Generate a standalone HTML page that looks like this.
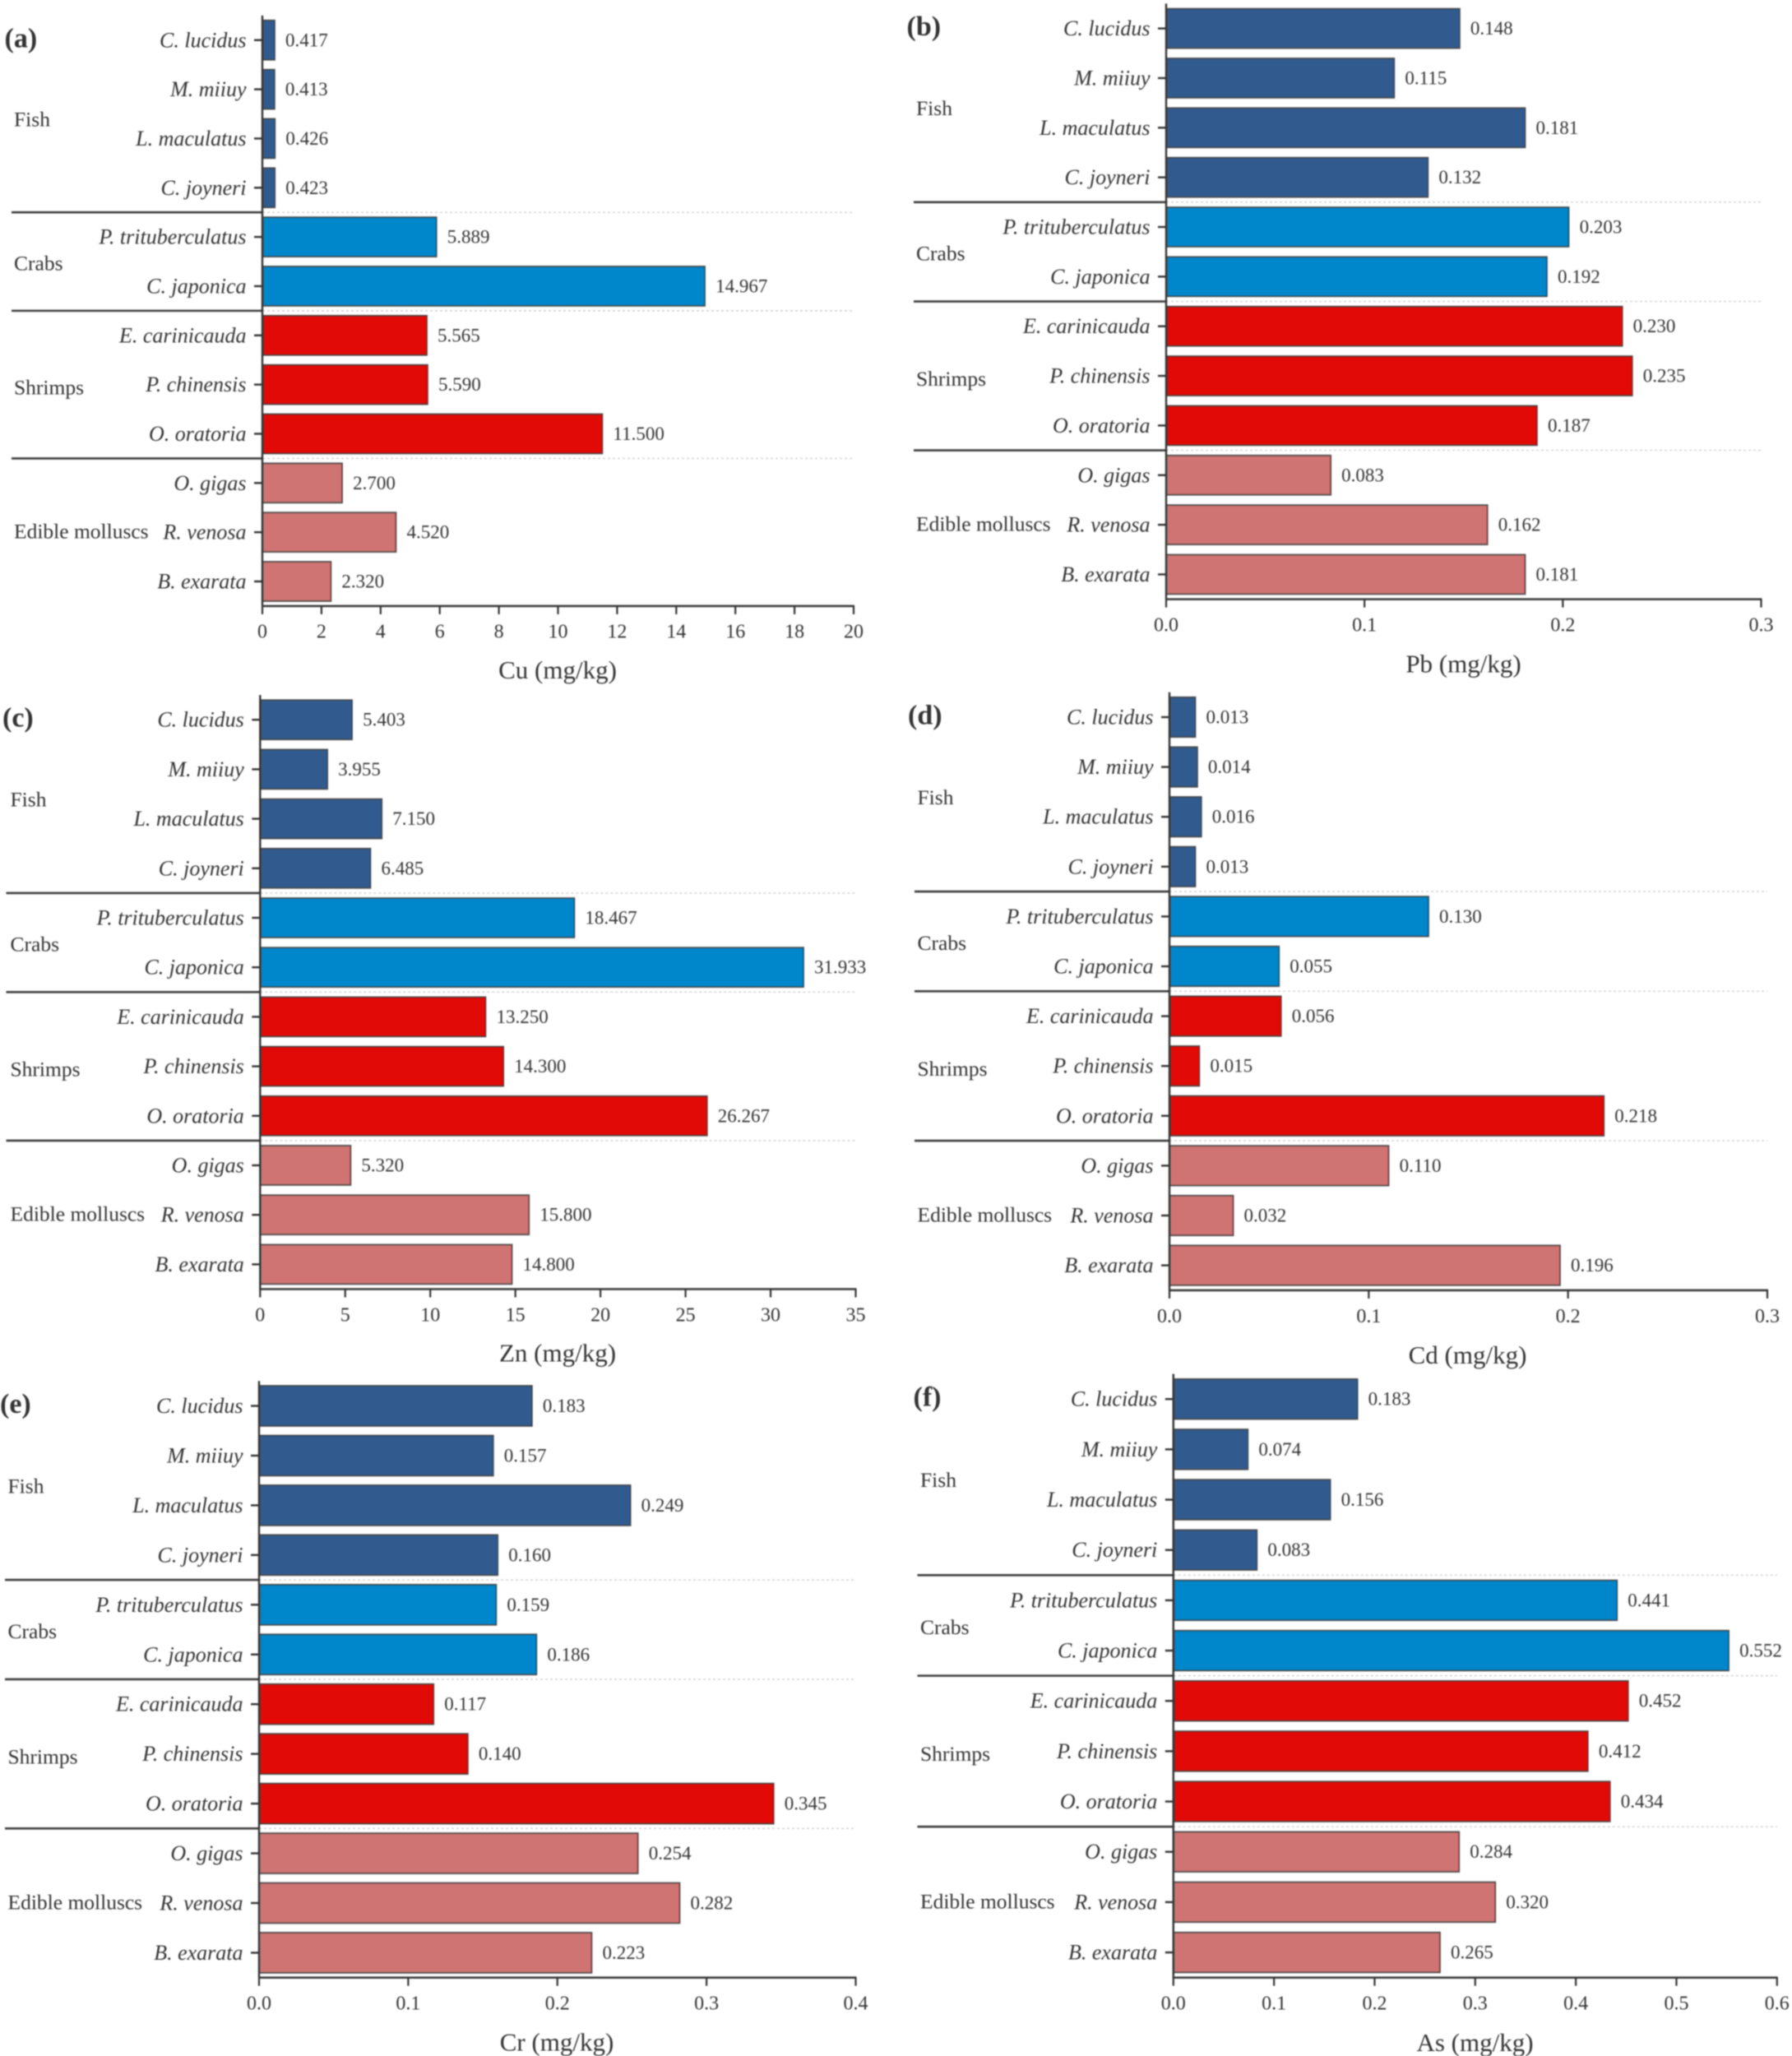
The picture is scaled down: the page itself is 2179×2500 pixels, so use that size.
<!DOCTYPE html>
<html lang="en">
<head>
<meta charset="utf-8">
<title>Heavy metal concentrations in seafood</title>
<style>
  html, body { margin: 0; padding: 0; background: #fff; }
  body { width: 2179px; height: 2500px; overflow: hidden; }
  #figure { display: block; width: 2179px; height: 2500px; filter: blur(0.7px); }
  text { font-family: "Liberation Serif", "Times New Roman", serif; fill: #333; }
</style>
</head>
<body>
<svg id="figure" xmlns="http://www.w3.org/2000/svg" width="2179" height="2500" viewBox="0 0 2179 2500"></svg>
<script>
// ---- Chart data ----
const speciesNames = ["C. lucidus", "M. miiuy", "L. maculatus", "C. joyneri", "P. trituberculatus", "C. japonica", "E. carinicauda", "P. chinensis", "O. oratoria", "O. gigas", "R. venosa", "B. exarata"];
const speciesGroupIndex = [0, 0, 0, 0, 1, 1, 2, 2, 2, 3, 3, 3];
const groupNames = ["Fish", "Crabs", "Shrimps", "Edible molluscs"];
const groupColors = ["#315b8f", "#0086cb", "#e10a06", "#cf7472"];

const cuValues = [0.417, 0.413, 0.426, 0.423, 5.889, 14.967, 5.565, 5.590, 11.500, 2.700, 4.520, 2.320];
const pbValues = [0.148, 0.115, 0.181, 0.132, 0.203, 0.192, 0.230, 0.235, 0.187, 0.083, 0.162, 0.181];
const znValues = [5.403, 3.955, 7.150, 6.485, 18.467, 31.933, 13.250, 14.300, 26.267, 5.320, 15.800, 14.800];
const cdValues = [0.013, 0.014, 0.016, 0.013, 0.130, 0.055, 0.056, 0.015, 0.218, 0.110, 0.032, 0.196];
const crValues = [0.183, 0.157, 0.249, 0.160, 0.159, 0.186, 0.117, 0.140, 0.345, 0.254, 0.282, 0.223];
const asValues = [0.183, 0.074, 0.156, 0.083, 0.441, 0.552, 0.452, 0.412, 0.434, 0.284, 0.320, 0.265];

const cuTicks = ["0", "2", "4", "6", "8", "10", "12", "14", "16", "18", "20"];
const pbTicks = ["0.0", "0.1", "0.2", "0.3"];
const znTicks = ["0", "5", "10", "15", "20", "25", "30", "35"];
const cdTicks = ["0.0", "0.1", "0.2", "0.3"];
const crTicks = ["0.0", "0.1", "0.2", "0.3", "0.4"];
const asTicks = ["0.0", "0.1", "0.2", "0.3", "0.4", "0.5", "0.6"];

// ---- Panel layout (plot geometry only) ----
const panels = [
  { id: "a", metal: "Cu", values: cuValues, ticks: cuTicks, left: 319, right: 1038, firstRow: 48.75, rowStep: 59.84, sepLeft: 14, groupX: 17, labelX: 5.5, titleX: 678, barH: 48, tickGap: 31.5, titleGap: 77.5 },
  { id: "b", metal: "Pb", values: pbValues, ticks: pbTicks, left: 1418, right: 2141.5, firstRow: 34.6, rowStep: 60.35, sepLeft: 1111, groupX: 1114, labelX: 1102.5, titleX: 1779.5, barH: 48, tickGap: 32, titleGap: 78.5 },
  { id: "c", metal: "Zn", values: znValues, ticks: znTicks, left: 316.3, right: 1040.5, firstRow: 875.2, rowStep: 60.2, sepLeft: 7.5, groupX: 12.5, labelX: 3, titleX: 678, barH: 48, tickGap: 32, titleGap: 77.5 },
  { id: "d", metal: "Cd", values: cdValues, ticks: cdTicks, left: 1422, right: 2149, firstRow: 872, rowStep: 60.6, sepLeft: 1112, groupX: 1115.5, labelX: 1104, titleX: 1784.5, barH: 48.5, tickGap: 32, titleGap: 78.5 },
  { id: "e", metal: "Cr", values: crValues, ticks: crTicks, left: 315, right: 1040.5, firstRow: 1709.5, rowStep: 60.45, sepLeft: 6, groupX: 9.5, labelX: 0, titleX: 677, barH: 49, tickGap: 32, titleGap: 78.5 },
  { id: "f", metal: "As", values: asValues, ticks: asTicks, left: 1426.8, right: 2160.8, firstRow: 1701.2, rowStep: 61.17, sepLeft: 1115.5, groupX: 1119, labelX: 1110.5, titleX: 1793.5, barH: 48.7, tickGap: 32, titleGap: 79 }
];

// Vertical nudges of the four group captions, in pixels
const groupLabelNudge = [4.8, 0, 1.5, -2.8];

// ---- Drawing ----
const SVG_NS = "http://www.w3.org/2000/svg";
const figure = document.getElementById("figure");

function make(parent, tag, attrs, content) {
  const el = document.createElementNS(SVG_NS, tag);
  for (const key in attrs) el.setAttribute(key, attrs[key]);
  if (content !== undefined) el.textContent = content;
  parent.appendChild(el);
  return el;
}

function drawPanel(p) {
  const maxTick = parseFloat(p.ticks[p.ticks.length - 1]);
  const xScale = v => p.left + (v / maxTick) * (p.right - p.left);
  const yScale = i => p.firstRow + i * p.rowStep;
  const baseline = yScale(speciesNames.length - 0.5);
  const top = yScale(-0.5);

  const g = make(figure, "g", {});
  
  

  // Group separators
  let prevGroup = speciesGroupIndex[0];
  speciesGroupIndex.forEach((groupIdx, i) => {
    if (groupIdx !== prevGroup) {
      const sy = yScale(i - 0.5);
      const solid = make(g, "line", { x1: p.sepLeft, x2: p.left, y1: sy, y2: sy, stroke: "#3d3d3d", "stroke-width": 2.6 });
      
      
      const dashed = make(g, "line", { x1: p.left, x2: p.right, y1: sy, y2: sy, stroke: "#cfcfcf", "stroke-width": 1.4, "stroke-dasharray": "3 3" });
      
      
      prevGroup = groupIdx;
    }
  });

  // Bars, species labels, tick marks, value labels
  p.values.forEach((value, i) => {
    const cy = yScale(i);
    const bar = make(g, "rect", {
      x: p.left, y: cy - p.barH / 2, width: xScale(value) - p.left, height: p.barH,
      fill: groupColors[speciesGroupIndex[i]], stroke: "#3c3c3c", "stroke-opacity": 0.85, "stroke-width": 1.8
    });
    
    

    const tick = make(g, "line", { x1: p.left - 10, x2: p.left, y1: cy, y2: cy, stroke: "#333", "stroke-width": 2.4 });
    
    

    const species = make(g, "text", {
      x: p.left - 19.5, y: cy, "text-anchor": "end", "dominant-baseline": "central",
      "font-style": "italic", "font-size": 26
    }, speciesNames[i]);
    
    

    const printed = make(g, "text", {
      x: xScale(value) + 13, y: cy, "dominant-baseline": "central", "font-size": 23
    }, value.toFixed(3));
    
    
  });

  // Group labels centred on their rows
  groupNames.forEach((name, gi) => {
    const rows = [];
    speciesGroupIndex.forEach((groupIdx, i) => { if (groupIdx === gi) rows.push(i); });
    const middle = (rows[0] + rows[rows.length - 1]) / 2;
    const label = make(g, "text", {
      x: p.groupX, y: yScale(middle + 0.03) + groupLabelNudge[gi], "dominant-baseline": "central", "font-size": 25.5
    }, name);
    
    
  });

  // Axes
  const yAxis = make(g, "line", { x1: p.left, x2: p.left, y1: top, y2: baseline, stroke: "#333", "stroke-width": 2.4 });
  
  
  const xAxis = make(g, "line", { x1: p.left - 1, x2: p.right + 1, y1: baseline, y2: baseline, stroke: "#3a3a3a", "stroke-width": 2.6 });
  
  

  p.ticks.forEach(label => {
    const tx = xScale(parseFloat(label));
    const mark = make(g, "line", { x1: tx, x2: tx, y1: baseline, y2: baseline + 10, stroke: "#333", "stroke-width": 2.2 });
    
    
    const text = make(g, "text", {
      x: tx, y: baseline + p.tickGap, "text-anchor": "middle", "dominant-baseline": "central", "font-size": 24
    }, label);
    
    
  });

  const title = make(g, "text", {
    x: p.titleX, y: baseline + p.titleGap, "text-anchor": "middle", "dominant-baseline": "central", "font-size": 31
  }, p.metal + " (mg/kg)");
  
  

  const panelLabel = make(g, "text", {
    x: p.labelX, y: p.firstRow - 2, "dominant-baseline": "central", "font-size": 34, "font-weight": "bold"
  }, "(" + p.id + ")");
  
  
}

panels.forEach(drawPanel);
</script>
</body>
</html>
